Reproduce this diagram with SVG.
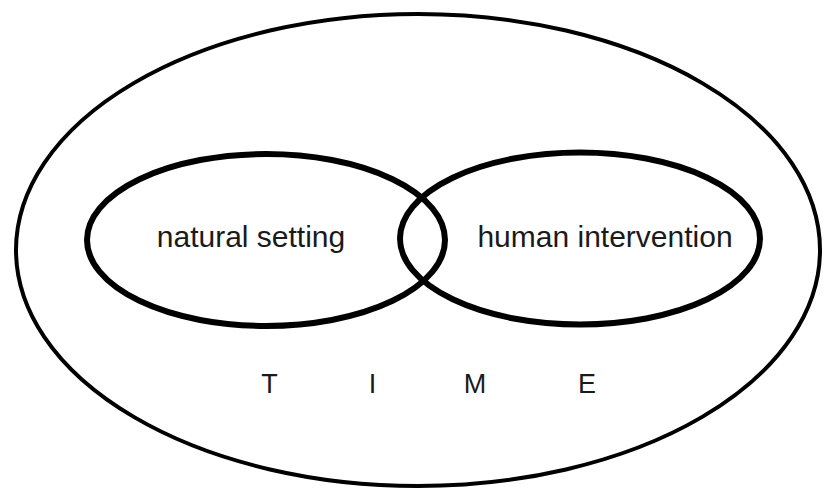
<svg xmlns="http://www.w3.org/2000/svg" width="827" height="491" viewBox="0 0 827 491">
  <style>
    .outer { fill: none; stroke: #000; stroke-width: 4; }
    .set { fill: none; stroke: #000; stroke-width: 6; }
    .lbl { font-family: "Liberation Sans", Arial, sans-serif; font-size: 30px; fill: #1a1a1a; text-anchor: middle; }
    .time { font-family: "Liberation Sans", Arial, sans-serif; font-size: 27px; fill: #1a1a1a; text-anchor: middle; }
  </style>
  <rect width="827" height="491" fill="#fff"/>
  <g id="time">
    <ellipse class="outer" cx="418" cy="250" rx="402" ry="236"/>
    <text class="time" x="269.5" y="393">T</text>
    <text class="time" x="372.5" y="393">I</text>
    <text class="time" x="475" y="393">M</text>
    <text class="time" x="587" y="393">E</text>
  </g>
  <g id="natural-setting">
    <ellipse class="set" cx="266" cy="240" rx="179" ry="86"/>
    <text class="lbl" x="251" y="247">natural setting</text>
  </g>
  <g id="human-intervention">
    <ellipse class="set" cx="580" cy="238.5" rx="180" ry="86"/>
    <text class="lbl" x="605" y="247">human intervention</text>
  </g>
  <g id="connectors"/>
</svg>
